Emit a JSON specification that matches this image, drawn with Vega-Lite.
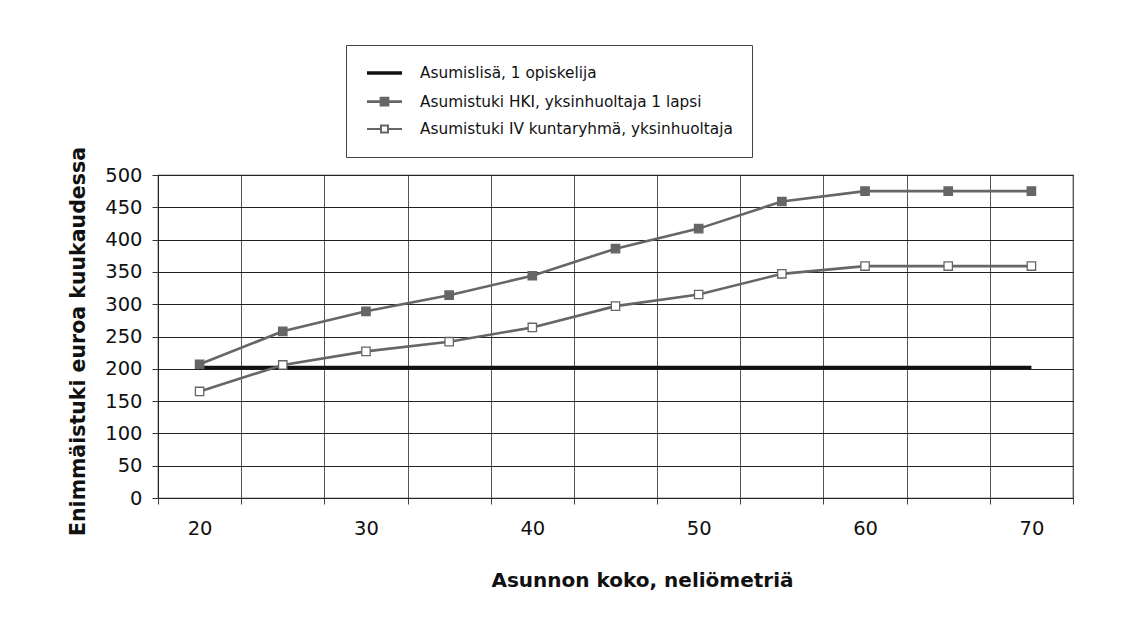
{
  "$schema": "https://vega.github.io/schema/vega-lite/v6.json",
  "autosize": "none",
  "width": 915,
  "height": 323,
  "padding": {"left": 158, "top": 175, "right": 48, "bottom": 125},
  "background": "white",
  "config": {
    "font": "DejaVu Sans",
    "view": {"stroke": "#333", "strokeWidth": 1.2},
    "legend": {
      "orient": "none",
      "legendX": 188,
      "legendY": -130,
      "padding": 19,
      "strokeColor": "#444",
      "fillColor": "white",
      "labelFont": "DejaVu Sans",
      "labelFontSize": 15.3,
      "labelColor": "#111",
      "labelOffset": 37,
      "labelLimit": 0,
      "symbolSize": 196,
      "rowPadding": 10,
      "title": null
    }
  },
  "datasets": {
    "main": [
      {"series": "Asumislisä, 1 opiskelija", "koko": 20, "euro": 202},
      {"series": "Asumislisä, 1 opiskelija", "koko": 25, "euro": 202},
      {"series": "Asumislisä, 1 opiskelija", "koko": 30, "euro": 202},
      {"series": "Asumislisä, 1 opiskelija", "koko": 35, "euro": 202},
      {"series": "Asumislisä, 1 opiskelija", "koko": 40, "euro": 202},
      {"series": "Asumislisä, 1 opiskelija", "koko": 45, "euro": 202},
      {"series": "Asumislisä, 1 opiskelija", "koko": 50, "euro": 202},
      {"series": "Asumislisä, 1 opiskelija", "koko": 55, "euro": 202},
      {"series": "Asumislisä, 1 opiskelija", "koko": 60, "euro": 202},
      {"series": "Asumislisä, 1 opiskelija", "koko": 65, "euro": 202},
      {"series": "Asumislisä, 1 opiskelija", "koko": 70, "euro": 202},
      {"series": "Asumistuki HKI, yksinhuoltaja 1 lapsi", "koko": 20, "euro": 207},
      {"series": "Asumistuki HKI, yksinhuoltaja 1 lapsi", "koko": 25, "euro": 258},
      {"series": "Asumistuki HKI, yksinhuoltaja 1 lapsi", "koko": 30, "euro": 289},
      {"series": "Asumistuki HKI, yksinhuoltaja 1 lapsi", "koko": 35, "euro": 314},
      {"series": "Asumistuki HKI, yksinhuoltaja 1 lapsi", "koko": 40, "euro": 344},
      {"series": "Asumistuki HKI, yksinhuoltaja 1 lapsi", "koko": 45, "euro": 386},
      {"series": "Asumistuki HKI, yksinhuoltaja 1 lapsi", "koko": 50, "euro": 417},
      {"series": "Asumistuki HKI, yksinhuoltaja 1 lapsi", "koko": 55, "euro": 459},
      {"series": "Asumistuki HKI, yksinhuoltaja 1 lapsi", "koko": 60, "euro": 475},
      {"series": "Asumistuki HKI, yksinhuoltaja 1 lapsi", "koko": 65, "euro": 475},
      {"series": "Asumistuki HKI, yksinhuoltaja 1 lapsi", "koko": 70, "euro": 475},
      {"series": "Asumistuki IV kuntaryhmä, yksinhuoltaja", "koko": 20, "euro": 165},
      {"series": "Asumistuki IV kuntaryhmä, yksinhuoltaja", "koko": 25, "euro": 206},
      {"series": "Asumistuki IV kuntaryhmä, yksinhuoltaja", "koko": 30, "euro": 227},
      {"series": "Asumistuki IV kuntaryhmä, yksinhuoltaja", "koko": 35, "euro": 242},
      {"series": "Asumistuki IV kuntaryhmä, yksinhuoltaja", "koko": 40, "euro": 264},
      {"series": "Asumistuki IV kuntaryhmä, yksinhuoltaja", "koko": 45, "euro": 297},
      {"series": "Asumistuki IV kuntaryhmä, yksinhuoltaja", "koko": 50, "euro": 315},
      {"series": "Asumistuki IV kuntaryhmä, yksinhuoltaja", "koko": 55, "euro": 347},
      {"series": "Asumistuki IV kuntaryhmä, yksinhuoltaja", "koko": 60, "euro": 359},
      {"series": "Asumistuki IV kuntaryhmä, yksinhuoltaja", "koko": 65, "euro": 359},
      {"series": "Asumistuki IV kuntaryhmä, yksinhuoltaja", "koko": 70, "euro": 359}
    ]
  },
  "data": {"name": "main"},
  "encoding": {
    "x": {
      "field": "koko",
      "type": "ordinal",
      "sort": "ascending",
      "scale": {"paddingInner": 0, "paddingOuter": 0},
      "axis": {
        "tickBand": "extent",
        "labelAngle": 0,
        "labelExpr": "datum.value % 10 === 0 ? datum.label : ''",
        "grid": true,
        "gridColor": "#555",
        "gridWidth": 1,
        "ticks": true,
        "tickSize": 6,
        "tickColor": "#444",
        "domainColor": "#222",
        "labelFont": "DejaVu Sans",
        "labelFontSize": 19.5,
        "labelColor": "#111",
        "labelPadding": 15,
        "title": "Asunnon koko, neliömetriä",
        "titleFont": "DejaVu Sans",
        "titleFontSize": 20,
        "titleFontWeight": "bold",
        "titleColor": "#111",
        "titlePadding": 33,
        "titleX": 484
      }
    },
    "y": {
      "field": "euro",
      "type": "quantitative",
      "scale": {"domain": [0, 500], "nice": false},
      "axis": {
        "values": [0, 50, 100, 150, 200, 250, 300, 350, 400, 450, 500],
        "grid": true,
        "gridColor": "#222",
        "gridWidth": 1,
        "tickSize": 6,
        "tickColor": "#333",
        "domainColor": "#222",
        "labelFont": "DejaVu Sans",
        "labelFontSize": 19.5,
        "labelColor": "#111",
        "labelPadding": 10,
        "title": "Enimmäistuki euroa kuukaudessa",
        "titleFont": "DejaVu Sans",
        "titleFontSize": 20.5,
        "titleFontWeight": "bold",
        "titleColor": "#111",
        "titlePadding": 16,
        "titleY": 166
      }
    }
  },
  "layer": [
    {
      "mark": {"type": "line", "clip": true},
      "encoding": {
        "stroke": {
          "field": "series",
          "type": "nominal",
          "title": null,
          "scale": {
            "domain": ["Asumislisä, 1 opiskelija", "Asumistuki HKI, yksinhuoltaja 1 lapsi", "Asumistuki IV kuntaryhmä, yksinhuoltaja"],
            "range": ["#111111", "#666666", "#666666"]
          }
        },
        "strokeWidth": {
          "condition": {"test": "datum.series === 'Asumislisä, 1 opiskelija'", "value": 3.5},
          "value": 2.6
        }
      }
    },
    {
      "transform": [{"filter": "datum.series !== 'Asumislisä, 1 opiskelija'"}],
      "mark": {"type": "point", "shape": "square", "size": 70, "strokeWidth": 1.3, "opacity": 1, "clip": true},
      "encoding": {
        "stroke": {"field": "series", "type": "nominal", "title": null},
        "fill": {
          "field": "series",
          "type": "nominal",
          "title": null,
          "scale": {
            "domain": ["Asumislisä, 1 opiskelija", "Asumistuki HKI, yksinhuoltaja 1 lapsi", "Asumistuki IV kuntaryhmä, yksinhuoltaja"],
            "range": ["#111111", "#666666", "#ffffff"]
          }
        }
      }
    },
    {
      "transform": [{"filter": "datum.koko === 20"}, {"calculate": "-100", "as": "hidden"}],
      "mark": {"type": "point", "size": 196, "opacity": 1, "clip": true},
      "encoding": {
        "y": {"field": "hidden", "type": "quantitative"},
        "stroke": {"field": "series", "type": "nominal", "title": null},
        "fill": {"field": "series", "type": "nominal", "title": null},
        "strokeWidth": {
          "field": "series",
          "type": "nominal",
          "title": null,
          "scale": {
            "domain": ["Asumislisä, 1 opiskelija", "Asumistuki HKI, yksinhuoltaja 1 lapsi", "Asumistuki IV kuntaryhmä, yksinhuoltaja"],
            "range": [3.5, 2, 2]
          }
        },
        "shape": {
          "field": "series",
          "type": "nominal",
          "title": null,
          "scale": {
            "domain": ["Asumislisä, 1 opiskelija", "Asumistuki HKI, yksinhuoltaja 1 lapsi", "Asumistuki IV kuntaryhmä, yksinhuoltaja"],
            "range": ["M-1,0H4", "M-1,0H1M2,0H4M1,-0.5H2V0.5H1Z", "M-1,0H1M2,0H4M1,-0.5H2V0.5H1Z"]
          }
        }
      }
    }
  ]
}
